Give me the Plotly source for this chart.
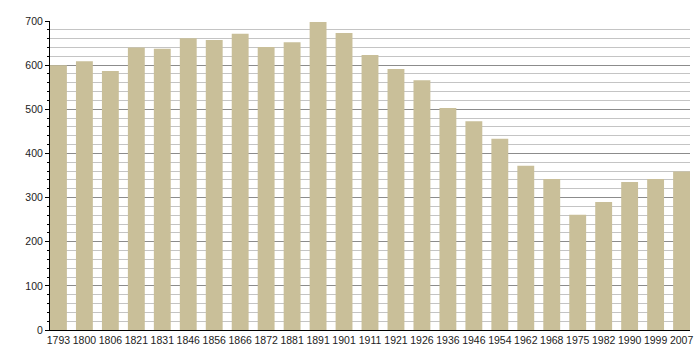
import plotly.graph_objects as go

years = ["1793", "1800", "1806", "1821", "1831", "1846", "1856", "1866", "1872", "1881",
         "1891", "1901", "1911", "1921", "1926", "1936", "1946", "1954", "1962", "1968",
         "1975", "1982", "1990", "1999", "2007"]
population = [600, 609, 587, 640, 637, 661, 657, 671, 641, 652,
              698, 673, 623, 591, 566, 503, 473, 433, 372, 342,
              261, 290, 335, 342, 359]

bar_w = 0.65

fig = go.Figure(go.Bar(
    x=years, y=population,
    marker=dict(color="#c9bf99", line=dict(width=0)),
    width=bar_w,
))

fig.update_layout(
    width=700, height=360,
    margin=dict(l=50, r=10, t=21, b=30),
    paper_bgcolor="white", plot_bgcolor="white",
    showlegend=False,
    font=dict(family="Liberation Sans, Arial, sans-serif", size=10.5, color="#222"),
)
fig.update_xaxes(
    type="category",
    range=[-bar_w / 2, len(years) - 1 + bar_w / 2],
    showline=True, linecolor="black", linewidth=1,
    ticks="", showgrid=False, tickangle=0,
    tickfont=dict(size=10.5),
    automargin=False,
)
fig.update_yaxes(
    range=[0, 700], dtick=100, tick0=0,
    showline=True, linecolor="black", linewidth=1,
    ticks="outside", ticklen=4, tickcolor="black",
    showgrid=True, gridcolor="#8c8c8c", gridwidth=1,
    minor=dict(dtick=20, showgrid=True, gridcolor="#c4c4c4", gridwidth=1,
               ticks="outside", ticklen=2, tickcolor="black"),
    zeroline=False,
    tickfont=dict(size=10.5),
    automargin=False,
)

fig.write_html("out.html", config={"displayModeBar": False},
               post_script="document.body.style.margin='0';")
